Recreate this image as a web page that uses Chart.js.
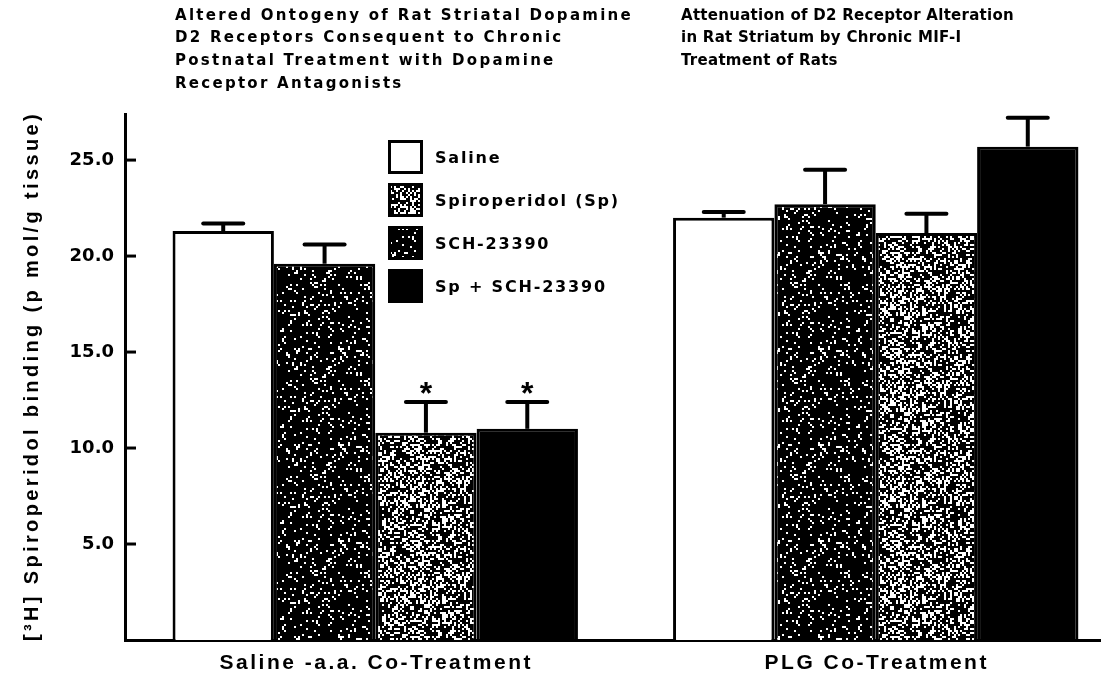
<!DOCTYPE html>
<html>
<head>
<meta charset="utf-8">
<script src="https://cdn.jsdelivr.net/npm/chart.js@4.4.1/dist/chart.umd.min.js"></script>
<style>
html,body{margin:0;padding:0;background:#fff;overflow:hidden;width:1101px;height:676px}
#wrap{position:relative;width:1130px;height:676px}
</style>
</head>
<body>
<div id="wrap"><canvas id="c" width="1130" height="676"></canvas></div>
<script>
// ---- data ----
const categories = ['Saline -a.a. Co-Treatment', 'PLG Co-Treatment'];
const salineValues = [21.3, 22.0];
const salineErrors = [0.4, 0.3];
const schValues = [19.6, 22.7];
const schErrors = [1.0, 1.8];
const spValues = [10.8, 21.2];
const spErrors = [1.6, 1.0];
const spSchValues = [11.0, 25.7];
const spSchErrors = [1.4, 1.5];
const spSignificant = [true, false];
const spSchSignificant = [true, false];
const yTickValues = [5, 10, 15, 20, 25];
const legendOrder = ['Saline', 'Spiroperidol (Sp)', 'SCH-23390', 'Sp + SCH-23390'];
const leftTitle = ['Altered Ontogeny of Rat Striatal Dopamine', 'D2 Receptors Consequent to Chronic', 'Postnatal Treatment with Dopamine', 'Receptor Antagonists'];
const rightTitle = ['Attenuation of D2 Receptor Alteration', 'in Rat Striatum by Chronic MIF-I', 'Treatment of Rats'];
const yAxisTitle = '[³H] Spiroperidol binding (p mol/g tissue)';

const FONT = '"Liberation Sans", Arial, sans-serif';
const HEAVY = '"DejaVu Sans", "Liberation Sans", sans-serif';
const canvas = document.getElementById('c');
const mainCtx = canvas.getContext('2d');

// deterministic texture (style only)
function hash(x, y, s) {
  let h = (x * 374761393 + y * 668265263 + s * 982451653) | 0;
  h = Math.imul(h ^ (h >>> 13), 1274126177);
  h = h ^ (h >>> 16);
  return (h >>> 0) / 4294967296;
}
function makePattern(kind) {
  const c = document.createElement('canvas');
  c.width = c.height = 96;
  const g = c.getContext('2d');
  g.fillStyle = kind === 'dark' ? '#000' : '#fff';
  g.fillRect(0, 0, 96, 96);
  for (let y = 0; y < 96; y += 2) {
    for (let x = 0; x < 96; x += 2) {
      const r = hash(x, y, kind === 'dark' ? 7 : 3);
      if (kind === 'dark') {
        if (r < 0.12) { g.fillStyle = '#fff'; g.fillRect(x, y, 2, 2); }
      } else {
        if (r < 0.6) { g.fillStyle = '#000'; g.fillRect(x, y, 2, 2); }
      }
    }
  }
  return mainCtx.createPattern(c, 'repeat');
}
const darkPattern = makePattern('dark');
const lightPattern = makePattern('light');

function fitSpacing(ctx, text, target) {
  ctx.letterSpacing = '0px';
  const w = ctx.measureText(text).width;
  return (target - w) / text.length;
}

const decor = {
  id: 'decor',
  afterDatasetsDraw(chart) {
    const ctx = chart.ctx;
    const ys = chart.scales.y;
    const area = chart.chartArea;
    ctx.save();
    ctx.strokeStyle = '#000';
    ctx.fillStyle = '#000';
    // inward tick marks
    ctx.lineWidth = 3;
    yTickValues.forEach(v => {
      const py = ys.getPixelForValue(v);
      ctx.beginPath();
      ctx.moveTo(area.left, py);
      ctx.lineTo(area.left + 11, py);
      ctx.stroke();
    });
    // error bars and asterisks
    chart.data.datasets.forEach((ds, i) => {
      const meta = chart.getDatasetMeta(i);
      meta.data.forEach((bar, j) => {
        const v = ds.data[j];
        const e = ds.errors[j];
        const yTop = ys.getPixelForValue(v);
        const yCap = ys.getPixelForValue(v + e);
        ctx.lineWidth = 4;
        ctx.lineCap = 'butt';
        ctx.beginPath();
        ctx.moveTo(bar.x, yTop);
        ctx.lineTo(bar.x, yCap);
        ctx.stroke();
        ctx.lineCap = 'round';
        ctx.beginPath();
        ctx.moveTo(bar.x - 20, yCap);
        ctx.lineTo(bar.x + 20, yCap);
        ctx.stroke();
        if (ds.significant && ds.significant[j]) {
          ctx.letterSpacing = '0px';
          ctx.font = 'bold 32px ' + FONT;
          ctx.textAlign = 'center';
          ctx.textBaseline = 'alphabetic';
          ctx.fillText('*', bar.x, yCap + 2);
        }
      });
    });
    ctx.restore();
  },
  afterDraw(chart) {
    const ctx = chart.ctx;
    const xs = chart.scales.x;
    ctx.save();
    ctx.fillStyle = '#000';
    ctx.textAlign = 'left';
    ctx.textBaseline = 'middle';
    // titles
    ctx.font = 'bold 15px ' + HEAVY;
    let sp = fitSpacing(ctx, leftTitle[0], 458);
    ctx.letterSpacing = sp + 'px';
    leftTitle.forEach((t, i) => ctx.fillText(t, 175, 16 + i * 22.6));
    sp = fitSpacing(ctx, rightTitle[0], 333);
    ctx.letterSpacing = sp + 'px';
    rightTitle.forEach((t, i) => ctx.fillText(t, 681, 16 + i * 22.6));
    // legend
    ctx.font = 'bold 16px ' + HEAVY;
    sp = fitSpacing(ctx, legendOrder[1], 185);
    ctx.letterSpacing = sp + 'px';
    legendOrder.forEach((name, i) => {
      const ds = chart.data.datasets.find(d => d.label === name);
      const top = 141 + i * 43;
      ctx.fillStyle = ds.backgroundColor;
      ctx.fillRect(389, top, 33, 32);
      ctx.strokeStyle = '#000';
      ctx.lineWidth = 3;
      ctx.strokeRect(389.5, top + 0.5, 32, 31);
      ctx.fillStyle = '#000';
      ctx.fillText(name, 435, top + 18);
    });
    // x category labels, placed by the x scale
    ctx.font = 'bold 21px ' + FONT;
    ctx.letterSpacing = '2.5px';
    ctx.textAlign = 'center';
    ctx.textBaseline = 'alphabetic';
    categories.forEach((c, i) => {
      ctx.fillText(c, xs.getPixelForTick(i) + 1, 669);
    });
    // y axis title
    ctx.textBaseline = 'middle';
    ctx.font = 'bold 20px ' + FONT;
    sp = fitSpacing(ctx, yAxisTitle, 530);
    ctx.letterSpacing = sp + 'px';
    ctx.translate(32, 376);
    ctx.rotate(-Math.PI / 2);
    ctx.fillText(yAxisTitle, 0, 0);
    ctx.restore();
  }
};

new Chart(canvas, {
  type: 'bar',
  data: {
    labels: categories,
    datasets: [
      { label: 'Saline', data: salineValues, errors: salineErrors, backgroundColor: '#ffffff' },
      { label: 'SCH-23390', data: schValues, errors: schErrors, backgroundColor: darkPattern },
      { label: 'Spiroperidol (Sp)', data: spValues, errors: spErrors, significant: spSignificant, backgroundColor: lightPattern },
      { label: 'Sp + SCH-23390', data: spSchValues, errors: spSchErrors, significant: spSchSignificant, backgroundColor: '#000000' }
    ].map(d => Object.assign(d, { borderColor: '#000', borderWidth: 3, categoryPercentage: 0.81, barPercentage: 1.0 }))
  },
  options: {
    responsive: false,
    animation: false,
    layout: { padding: { top: 114, right: 4, left: 0, bottom: 0 } },
    plugins: { legend: { display: false }, tooltip: { enabled: false }, title: { display: false } },
    scales: {
      x: {
        grid: { display: false, drawTicks: false },
        border: { display: true, color: '#000', width: 3 },
        ticks: { display: false },
        afterFit(s) { s.height = 36; }
      },
      y: {
        min: 0,
        max: 27.4,
        grid: { display: false, drawTicks: false },
        border: { display: true, color: '#000', width: 3 },
        afterBuildTicks(s) { s.ticks = yTickValues.map(v => ({ value: v })); },
        ticks: { color: '#000', font: { family: HEAVY, size: 18, weight: 'bold' }, padding: 11, callback: v => Number(v).toFixed(1) },
        afterFit(s) { s.width = 125; }
      }
    }
  },
  plugins: [decor]
});
</script>
</body>
</html>
